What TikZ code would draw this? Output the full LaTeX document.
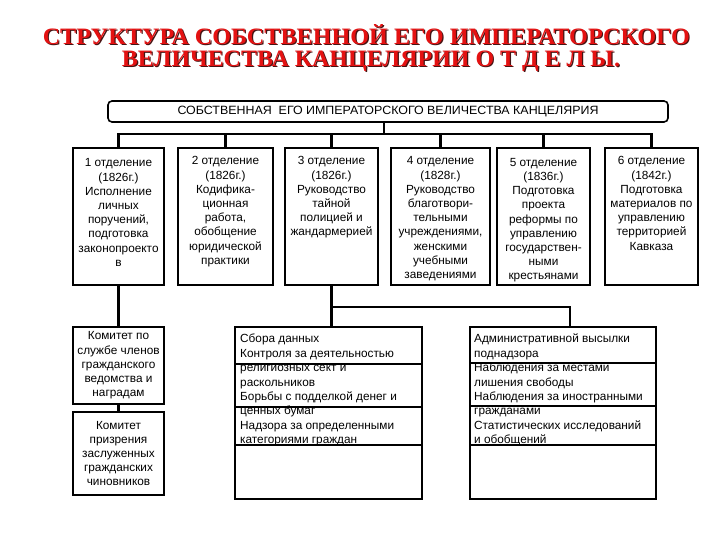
\documentclass[tikz,border=0pt]{standalone}
\usepackage{fontspec}
\usepackage{graphicx}
\setmainfont{Liberation Sans}
\newfontfamily\titlefont{Liberation Serif}
\definecolor{titlered}{RGB}{228,18,18}
\definecolor{shadowc}{RGB}{70,20,20}
\newcommand\shadowtitle[2]{\makebox[0pt][l]{\hspace{1.2pt}\raisebox{-1.2pt}{\textcolor{shadowc}{\resizebox{#1}{\height}{#2}}}}\textcolor{titlered}{\resizebox{#1}{\height}{#2}}}
\begin{document}
\begin{tikzpicture}[x=1pt,y=-1pt,
  box/.style={draw=black, line width=2.6pt, inner sep=0pt, fill=white},
  lbox/.style={draw=black, line width=2pt, inner sep=0pt, fill=white},
  txt/.style={font=\fontsize{11.8}{14.2}\selectfont, align=center, inner sep=0pt, anchor=north},
  ltxt/.style={font=\fontsize{11.8}{14.4}\selectfont, align=left, inner sep=0pt, anchor=north west},
  lnk/.style={line width=2.4pt, line cap=rect},
  sep/.style={line width=1.8pt},
  ttl/.style={font=\titlefont\bfseries\fontsize{23.5}{28}\selectfont, inner sep=0pt}]
\useasboundingbox (0,0) rectangle (720,540);

% title with shadow
\node[ttl] (t1) at (366.3,35) {\shadowtitle{647pt}{СТРУКТУРА СОБСТВЕННОЙ ЕГО ИМПЕРАТОРСКОГО}};
\node[ttl] (t2) at (371,62) {\shadowtitle{498pt}{ВЕЛИЧЕСТВА КАНЦЕЛЯРИИ О Т Д Е Л Ы.}};

% top box
\node[draw=black, line width=1.6pt, rounded corners=4pt, minimum width=560pt, minimum height=21pt, inner sep=0pt]
  (top) at (388,111.5) {\fontsize{12}{14}\selectfont\resizebox{421pt}{\height}{СОБСТВЕННАЯ\ \ ЕГО ИМПЕРАТОРСКОГО ВЕЛИЧЕСТВА КАНЦЕЛЯРИЯ}};

% department boxes
\node[box, minimum width=91pt, minimum height=137pt] (d1) at (118.5,216.5) {};
\node[box, minimum width=95pt, minimum height=137pt] (d2) at (225.5,216.5) {};
\node[box, minimum width=93pt, minimum height=137pt] (d3) at (331.5,216.5) {};
\node[box, minimum width=99pt, minimum height=137pt] (d4) at (440.5,216.5) {};
\node[box, minimum width=93pt, minimum height=137pt] (d5) at (543.5,216.5) {};
\node[box, minimum width=93pt, minimum height=137pt] (d6) at (651.5,216.5) {};

\node[txt] (d1t) at (118.5,158.5) {1 отделение\\(1826г.)\\Исполнение\\личных\\поручений,\\подготовка\\законопроекто\\в};
\node[txt] (d2t) at (225.5,156.5) {2 отделение\\(1826г.)\\Кодифика-\\ционная\\работа,\\обобщение\\юридической\\практики};
\node[txt] (d3t) at (331.5,156.5) {3 отделение\\(1826г.)\\Руководство\\тайной\\полицией и\\жандармерией};
\node[txt] (d4t) at (440.5,156.5) {4 отделение\\(1828г.)\\Руководство\\благотвори-\\тельными\\учреждениями,\\женскими\\учебными\\заведениями};
\node[txt] (d5t) at (543.5,158) {5 отделение\\(1836г.)\\Подготовка\\проекта\\реформы по\\управлению\\государствен-\\ными\\крестьянами};
\node[txt] (d6t) at (651.5,156.5) {6 отделение\\(1842г.)\\Подготовка\\материалов по\\управлению\\территорией\\Кавказа};

% connectors top
\coordinate (stub) at (384,134);
\draw[lnk] (stub |- top.south) -- (stub);
\draw[lnk] (d1.north |- stub) -- (d6.north |- stub);
\foreach \i in {1,...,6} { \draw[lnk] (d\i.north |- stub) -- (d\i.north); }

% committees
\node[box, minimum width=91pt, minimum height=77pt, align=center, font=\fontsize{11.8}{14.2}\selectfont] (k1) at (118.5,365.5)
  {Комитет по\\службе членов\\гражданского\\ведомства и\\наградам};
\node[box, minimum width=91pt, minimum height=83pt, align=center, font=\fontsize{11.8}{14.2}\selectfont] (k2) at (118.5,453.5)
  {Комитет\\призрения\\заслуженных\\гражданских\\чиновников};
\draw[lnk] (d1.south) -- (k1.north);
\draw[lnk] (k1.south) -- (k2.north);

% list boxes
\node[lbox, minimum width=187pt, minimum height=172pt] (m) at (328.5,413) {};
\node[lbox, minimum width=186pt, minimum height=172pt] (r) at (563,413) {};
\foreach \b/\ya/\yb in {m/364/407, r/363/406} {
  \draw[sep] (\b.west |- 0,\ya) -- (\b.east |- 0,\ya);
  \draw[sep] (\b.west |- 0,\yb) -- (\b.east |- 0,\yb);
  \draw[line width=2.6pt] (\b.west |- 0,445) -- (\b.east |- 0,445);
}
\node[ltxt] (mt) at (240,334) {Сбора данных\\Контроля за деятельностью\\религиозных сект и\\раскольников\\Борьбы с подделкой денег и\\ценных бумаг\\Надзора за определенными\\категориями граждан};
\node[ltxt] (rt) at (474,334) {Административной высылки\\поднадзора\\Наблюдения за местами\\лишения свободы\\Наблюдения за иностранными\\гражданами\\Статистических исследований\\и обобщений};

\draw[lnk] (d3.south) -- (d3.south |- m.north);
\coordinate (br) at (d3.south |- 0,307);
\draw[lnk] (br) -| ([xshift=7pt]r.north);
\end{tikzpicture}
\end{document}
